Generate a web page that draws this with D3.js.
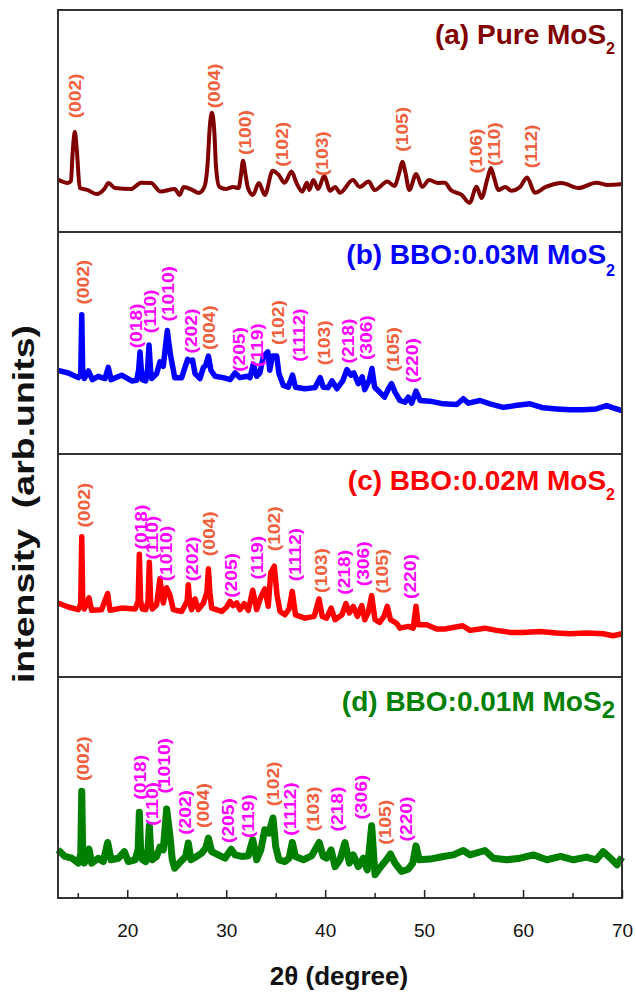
<!DOCTYPE html>
<html>
<head>
<meta charset="utf-8">
<script src="https://cdn.jsdelivr.net/npm/d3@7"></script>
<style>
  body { margin: 0; background: #fff; }
  svg { display: block; }
  text { font-family: "Liberation Sans", Arial, sans-serif; }
</style>
</head>
<body>
<svg id="chart" width="636" height="992"></svg>
<script>
// 2theta (deg), relative intensity (0-100 of panel height)
const pureMoS2 = [[13.0,23.7],[14.0,22.1],[14.3,23.0],[14.5,37],[14.7,45.2],[14.9,37],[15.2,19.8],[16.0,18.9],[16.9,17.1],[17.7,19.5],[18.1,22.1],[18.76,19.8],[20.4,19.4],[21.4,22.2],[22.4,22.1],[23.36,18.2],[24.8,19.4],[25.3,16.7],[25.7,20.3],[26.6,18.9],[27.2,17.6],[27.75,19.8],[28.1,29.4],[28.35,48],[28.56,53.7],[28.8,45],[28.97,29.4],[29.3,20.4],[30.0,19.4],[30.7,20.3],[31.25,19.8],[31.5,26],[31.7,32.1],[31.95,26],[32.2,19.8],[32.7,16.7],[33.3,22.1],[33.9,16.7],[34.7,27.6],[35.3,25.7],[35.9,22.2],[36.6,27.2],[37.1,22.1],[37.7,18.2],[38.15,22.2],[38.4,18.9],[38.8,23.4],[39.3,19.4],[39.9,25.2],[40.5,18.6],[41.0,20.3],[41.5,17.7],[42.8,23.4],[43.5,20.3],[44.4,22.7],[45.0,18.9],[46.3,22.7],[47.0,20.7],[47.5,27],[47.8,31.7],[48.1,27],[48.5,18.9],[49.2,26.1],[49.8,20.3],[50.5,23.4],[51.4,22.1],[52.1,22.2],[52.7,18.9],[53.8,16.7],[54.6,13.1],[55.3,20.4],[55.8,15.3],[56.4,24],[56.75,28.8],[57.1,24],[57.5,18.9],[58.2,20.3],[58.8,18.6],[59.7,20.3],[60.4,24.6],[61.2,17.7],[62.3,20.3],[63.9,22.1],[65.6,19.8],[67.4,22.2],[68.6,21.2],[70.0,21.6]];

const bbo003 = [[13.0,37.7],[14.04,36.5],[15.05,34.4],[15.3,36],[15.4,62.7],[15.5,36],[15.66,34.0],[16.07,37.4],[16.47,33.5],[17.07,35.0],[17.75,34.0],[18.08,39.0],[18.36,33.5],[19.43,35.5],[20.45,32.9],[20.95,33.2],[21.15,38],[21.29,46.0],[21.42,38],[21.52,33.5],[21.86,32.9],[22.05,38],[22.2,49.1],[22.35,38],[22.47,34.0],[22.97,36.2],[23.3,41.5],[23.64,39.5],[23.85,48],[24.05,55.6],[24.2,50],[24.4,43.8],[24.8,34.4],[25.5,34.4],[26.1,42.6],[26.3,42.0],[26.6,42.3],[26.85,36.2],[27.35,34.0],[27.7,39.0],[27.93,40.0],[28.2,44.1],[28.46,37.7],[28.87,35.0],[29.7,34.4],[30.4,33.5],[30.9,36.5],[31.4,34.4],[32.1,35.0],[32.4,34.4],[32.74,40.5],[33.08,35.0],[33.4,36.5],[33.75,43.8],[34.2,46.0],[34.4,37.7],[34.66,44.1],[35.1,44.1],[35.33,36.2],[35.77,30.9],[36.27,30.1],[36.7,35.5],[37.0,30.1],[37.96,29.4],[38.97,29.9],[39.5,34.4],[39.8,30.1],[40.3,29.9],[40.7,32.9],[41.2,29.4],[41.8,33.2],[42.2,38.0],[42.6,35.5],[42.9,36.5],[43.35,31.7],[43.75,34.7],[44.0,29.0],[44.46,33.2],[44.73,38.5],[45.0,30.1],[45.5,27.9],[46.0,25.6],[46.4,29.4],[46.7,31.7],[47.06,27.9],[47.56,24.1],[48.07,23.3],[48.4,25.6],[48.75,22.9],[49.18,28.3],[49.6,24.1],[50.6,23.8],[51.94,22.6],[53.3,22.3],[53.96,24.9],[54.47,22.9],[55.65,24.1],[56.66,22.6],[58.0,21.0],[59.2,21.8],[60.7,22.6],[62.04,20.8],[63.4,20.3],[64.7,19.9],[66.1,19.9],[67.4,20.3],[68.45,21.8],[69.1,20.8],[70.0,19.5]];

const bbo002 = [[13.0,33.2],[14.04,31.4],[15.05,30.2],[15.3,33],[15.4,62.9],[15.5,33],[15.66,30.5],[16.13,35.5],[16.4,29.9],[17.4,30.2],[18.02,37.4],[18.26,29.9],[19.43,30.9],[20.8,30.5],[21.1,34],[21.22,55.0],[21.35,34],[21.52,30.5],[21.86,30.2],[22.1,34],[22.23,51.5],[22.36,34],[22.53,30.5],[22.97,32.4],[23.3,44.0],[23.64,33.2],[23.98,40.0],[24.3,36.9],[24.65,30.2],[25.5,29.4],[26.05,34],[26.17,41.4],[26.3,34],[26.5,30.2],[26.85,35.0],[27.18,30.2],[27.7,33.2],[28.05,38],[28.2,48.5],[28.35,38],[28.53,30.9],[29.55,29.4],[30.05,31.4],[30.38,33.9],[30.7,32.0],[31.06,33.2],[31.4,30.2],[31.83,32.9],[32.23,29.9],[32.68,38.9],[33.08,30.2],[33.5,35.9],[33.9,39.5],[34.25,31.7],[34.5,46.7],[34.86,49.7],[35.13,36.9],[35.44,29.4],[35.94,27.9],[36.35,30.5],[36.68,38.4],[37.0,27.9],[37.96,26.4],[38.9,27.2],[39.38,35.0],[39.7,27.2],[40.15,26.4],[40.6,30.9],[41.0,25.7],[41.7,27.9],[42.1,32.9],[42.45,28.7],[42.84,31.7],[43.25,27.2],[43.7,32.0],[44.0,25.7],[44.36,29.0],[44.7,36.5],[45.04,25.7],[45.5,24.5],[45.95,27.2],[46.28,31.7],[46.6,25.7],[47.2,24.2],[47.56,21.9],[48.4,22.7],[48.9,21.9],[49.18,31.7],[49.4,23.4],[50.26,23.4],[51.27,21.5],[52.1,21.5],[53.9,23.0],[54.64,20.9],[56.15,21.9],[57.3,20.9],[58.7,20.0],[60.0,20.0],[61.7,20.4],[63.4,19.7],[64.7,19.4],[66.4,19.7],[68.1,19.4],[69.1,18.5],[70.0,19.4]];

const bbo001 = [[13.0,21.8],[13.7,18.8],[14.4,18.0],[15.05,15.8],[15.3,20],[15.4,48.3],[15.5,20],[15.66,15.8],[16.13,22.1],[16.4,15.8],[17.07,18.0],[17.58,16.5],[18.02,25.1],[18.36,17.3],[19.1,18.0],[19.7,21.0],[20.1,16.5],[20.8,17.3],[21.1,22],[21.22,38.8],[21.35,22],[21.52,17.3],[21.86,16.5],[22.1,22],[22.23,32.7],[22.36,22],[22.53,17.3],[22.97,18.8],[23.3,23.0],[23.64,21.8],[23.98,40.3],[24.3,28.6],[24.55,17.3],[24.8,13.5],[25.4,16.5],[25.9,18.8],[26.17,24.9],[26.44,17.3],[27.0,18.8],[27.52,20.3],[27.93,22.6],[28.2,27.1],[28.53,21.0],[29.2,19.5],[29.88,18.0],[30.5,22.1],[30.9,19.5],[31.57,18.8],[32.23,19.1],[32.68,26.4],[33.08,17.3],[33.5,21.8],[33.9,30.9],[34.32,29.4],[34.73,36.2],[35.0,23.3],[35.33,17.3],[35.94,16.5],[36.35,18.0],[36.68,25.1],[37.0,18.8],[37.8,17.3],[38.64,19.1],[39.4,25.1],[39.8,18.8],[40.15,18.0],[40.6,21.8],[41.0,14.2],[41.5,17.3],[42.0,25.1],[42.45,15.8],[42.84,19.5],[43.35,14.2],[43.85,18.0],[44.26,12.7],[44.7,32.7],[45.04,10.5],[45.5,13.5],[46.2,17.3],[46.6,19.9],[47.06,15.8],[47.7,12.0],[48.4,13.0],[48.85,15.8],[49.18,23.6],[49.5,17.3],[50.6,17.6],[51.94,18.8],[52.95,19.5],[53.96,21.5],[54.64,19.5],[56.15,21.5],[57.0,18.0],[58.35,17.3],[59.7,18.0],[61.05,19.5],[62.4,17.3],[63.8,18.8],[65.1,17.3],[66.4,18.5],[67.4,17.3],[68.1,21.0],[69.0,17.3],[69.5,15.0],[70.0,18.5]];

// peak labels: text, 2theta, intensity where label starts, phase (m = MoS2, b = BBO)
const labelsA = [["(002)",14.8,51.2,"m"],["(004)",28.8,55.7,"m"],["(100)",31.9,34.7,"m"],["(102)",35.7,29.4,"m"],["(103)",39.7,25.2,"m"],["(105)",47.8,36.2,"m"],["(106)",55.3,26.4,"m"],["(110)",57.1,29.7,"m"],["(112)",60.8,28.7,"m"]];
const labelsB = [["(002)",15.56,67.3,"m"],["(018)",20.95,47.6,"b"],["(110)",22.3,54.4,"b"],["(1010)",24.15,59.7,"b"],["(202)",26.5,45.3,"b"],["(004)",28.26,46.8,"m"],["(205)",31.3,37.0,"b"],["(119)",33.2,39.2,"b"],["(102)",35.3,49.1,"m"],["(1112)",37.4,41.5,"b"],["(103)",39.9,40.0,"m"],["(218)",42.3,40.8,"b"],["(306)",44.2,42.3,"b"],["(105)",46.9,37.0,"m"],["(220)",48.85,32.0,"b"]];
const labelsC = [["(002)",15.66,67.0,"m"],["(018)",21.4,57.2,"b"],["(110)",22.5,52.7,"b"],["(1010)",24.0,42.9,"b"],["(202)",26.6,42.9,"b"],["(004)",28.26,54.2,"m"],["(205)",30.5,35.5,"b"],["(119)",33.2,43.7,"b"],["(102)",34.9,56.4,"m"],["(1112)",36.95,42.9,"b"],["(103)",39.65,37.7,"m"],["(218)",41.9,36.9,"b"],["(306)",43.85,40.7,"b"],["(105)",45.8,37.4,"m"],["(220)",48.6,35.0,"b"]];
const labelsD = [["(002)",15.56,52.9,"m"],["(018)",21.3,44.5,"b"],["(110)",22.5,32.7,"b"],["(1010)",23.8,47.3,"b"],["(202)",25.9,28.6,"b"],["(004)",27.7,31.7,"m"],["(205)",30.2,24.9,"b"],["(119)",32.2,27.1,"b"],["(102)",34.75,41.5,"m"],["(1112)",36.45,28.2,"b"],["(103)",38.8,30.1,"m"],["(218)",41.25,30.1,"b"],["(306)",43.7,35.5,"b"],["(105)",46.05,24.1,"m"],["(220)",48.2,25.6,"b"]];

const titles = ["(a) Pure MoS", "(b) BBO:0.03M MoS", "(c) BBO:0.02M MoS", "(d) BBO:0.01M MoS"];
const majorTicks = [20, 30, 40, 50, 60, 70];
const minorTicks = [15, 25, 35, 45, 55, 65];

const left = 58, right = 622;
const edges = [10, 232, 454, 677, 898];
const phaseColor = { m: "#f0603c", b: "#ff00ff" };

const panels = [
  { data: pureMoS2, labels: labelsA, title: titles[0], color: "#800000", lw: 4, ty: 34, sub: 16, subDy: 10, curve: d3.curveMonotoneX },
  { data: bbo003, labels: labelsB, title: titles[1], color: "#0000ff", lw: 5.5, ty: 32, sub: 16, subDy: 12, curve: d3.curveLinear },
  { data: bbo002, labels: labelsC, title: titles[2], color: "#ff0000", lw: 5.5, ty: 36, sub: 16, subDy: 10, curve: d3.curveLinear },
  { data: bbo001, labels: labelsD, title: titles[3], color: "#008000", lw: 7, ty: 34, sub: 24, subDy: 7, curve: d3.curveLinear }
];

const svg = d3.select("#chart");

let x = d3.scaleLinear()
  .domain([13, 70])
  .range([left, right]);

panels.forEach(function(p, i) {
  let top = edges[i], bottom = edges[i + 1];
  let y = d3.scaleLinear().domain([0, 100]).range([bottom, top]);
  let g = svg.append("g");

  let line = d3.line()
    .x(function(d) { return x(d[0]); })
    .y(function(d) { return y(d[1]); })
    .curve(p.curve);

  g.append("path")
    .datum(p.data)
    .attr("d", line)
    .attr("fill", "none")
    .attr("stroke", p.color)
    .attr("stroke-width", p.lw)
    .attr("stroke-linejoin", "round");

  // hkl labels, rotated, reading upward
  g.selectAll("text.hkl")
    .data(p.labels)
    .enter().append("text")
    .attr("class", "hkl")
    .attr("transform", function(d) { return "translate(" + x(d[1]) + "," + y(d[2]) + ") rotate(-90) scale(1.2,1)"; })
    .attr("dy", "0.35em")
    .attr("font-size", 16)
    .attr("font-weight", "bold")
    .attr("fill", function(d) { return phaseColor[d[3]]; })
    .text(function(d) { return d[0]; });

  let t = g.append("text")
    .attr("x", 615)
    .attr("y", top + p.ty)
    .attr("text-anchor", "end")
    .attr("font-size", 28)
    .attr("font-weight", "bold")
    .attr("fill", p.color);
  t.append("tspan").text(p.title);
  t.append("tspan").attr("dy", p.subDy).attr("font-size", p.sub).text("2");

  g.append("rect")
    .attr("x", left).attr("y", top)
    .attr("width", right - left).attr("height", bottom - top)
    .attr("fill", "none")
    .attr("stroke", "#333")
    .attr("stroke-width", 2);
});

// bottom axis, ticks pointing inward
let xAxis = d3.axisBottom(x).tickValues(majorTicks).tickSize(-8).tickPadding(26);
let ax = svg.append("g").attr("transform", "translate(0," + edges[4] + ")").call(xAxis);
ax.select(".domain").remove();
ax.selectAll("line").attr("stroke", "#222").attr("stroke-width", 1.5);
ax.selectAll("text").attr("font-size", 19).attr("fill", "#111").attr("font-family", "\"Liberation Sans\", Arial, sans-serif");

let minorAxis = d3.axisBottom(x).tickValues(minorTicks).tickSize(-5).tickFormat("");
let mx = svg.append("g").attr("transform", "translate(0," + edges[4] + ")").call(minorAxis);
mx.select(".domain").remove();
mx.selectAll("line").attr("stroke", "#222").attr("stroke-width", 1.5);

svg.append("text")
  .attr("x", 339).attr("y", 985)
  .attr("text-anchor", "middle")
  .attr("font-size", 26)
  .attr("font-weight", "bold")
  .attr("fill", "#111")
  .text("2θ (degree)");

svg.append("text")
  .attr("transform", "translate(34,504) rotate(-90) scale(1.25,1)")
  .attr("text-anchor", "middle")
  .attr("font-size", 30)
  .attr("font-weight", "bold")
  .attr("fill", "#111")
  .text("intensity\u00a0 (arb.units)");
</script>
</body>
</html>
